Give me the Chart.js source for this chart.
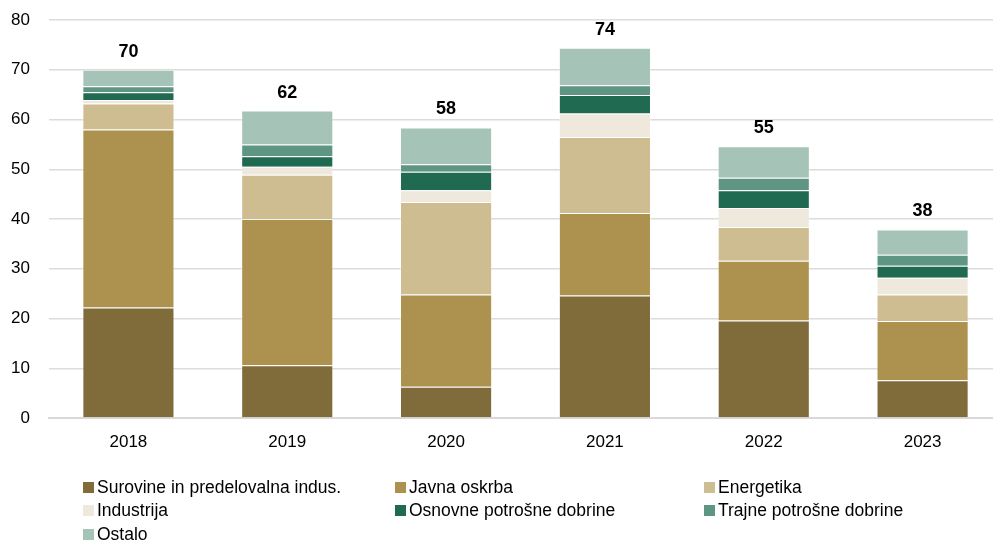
<!DOCTYPE html>
<html>
<head>
<meta charset="utf-8">
<script src="https://cdn.jsdelivr.net/npm/chart.js@4"></script>
<style>
  html, body { margin: 0; padding: 0; background: #fff; overflow: hidden; }
  #wrap { position: relative; width: 993px; height: 542px; overflow: hidden; }
</style>
</head>
<body>
<div id="wrap"><canvas id="c" width="1002" height="542"></canvas></div>
<script>
const years = ['2018', '2019', '2020', '2021', '2022', '2023'];
const seriesNames = ['Surovine in predelovalna indus.', 'Javna oskrba', 'Energetika', 'Industrija', 'Osnovne potrošne dobrine', 'Trajne potrošne dobrine', 'Ostalo'];
const surovine = [22.2, 10.6, 6.3, 24.6, 19.6, 7.6];
const javnaOskrba = [35.8, 29.4, 18.5, 16.6, 12.0, 11.9];
const energetika = [5.2, 8.9, 18.6, 15.3, 6.8, 5.3];
const industrija = [0.7, 1.6, 2.4, 4.7, 3.8, 3.4];
const osnovne = [1.6, 2.1, 3.7, 3.7, 3.6, 2.4];
const trajne = [1.2, 2.4, 1.5, 2.0, 2.5, 2.2];
const ostalo = [3.3, 6.8, 7.4, 7.5, 6.3, 5.1];
const yTicks = [0, 10, 20, 30, 40, 50, 60, 70, 80];

const colors = ['#806B3A', '#AD914E', '#CEBD91', '#EFE8DC', '#1F6A50', '#5E9683', '#A6C3B8'];
const seriesValues = [surovine, javnaOskrba, energetika, industrija, osnovne, trajne, ostalo];

const FONT = "'Liberation Sans', Arial, sans-serif";

const datasets = seriesValues.map((vals, i) => ({
  label: seriesNames[i],
  data: vals,
  backgroundColor: colors[i],
  borderColor: 'rgba(255,255,255,0.35)',
  borderWidth: 1,
  barPercentage: 0.58,
  categoryPercentage: 1.0
}));

const totalsPlugin = {
  id: 'totals',
  afterDatasetsDraw(chart) {
    const ctx = chart.ctx;
    const n = chart.data.labels.length;
    const lastMeta = chart.getDatasetMeta(chart.data.datasets.length - 1);
    ctx.save();
    ctx.font = "bold 18px " + FONT;
    ctx.fillStyle = '#000';
    ctx.textAlign = 'center';
    ctx.textBaseline = 'bottom';
    for (let j = 0; j < n; j++) {
      let sum = 0;
      chart.data.datasets.forEach(ds => sum += ds.data[j]);
      const x = lastMeta.data[j].x;
      const y = chart.scales.y.getPixelForValue(sum);
      ctx.fillText(String(Math.round(sum)), x, y - 9);
    }
    ctx.restore();
  }
};

const legendPlugin = {
  id: 'gridLegend',
  afterDraw(chart) {
    const ctx = chart.ctx;
    const colX = [83, 395, 704];
    const rowY = [487, 510, 534];
    ctx.save();
    ctx.font = "17.5px " + FONT;
    ctx.textBaseline = 'middle';
    ctx.textAlign = 'left';
    chart.data.datasets.forEach((ds, i) => {
      const cx = colX[i % 3];
      const cy = rowY[Math.floor(i / 3)];
      ctx.fillStyle = ds.backgroundColor;
      ctx.fillRect(cx, cy - 5, 11, 11);
      ctx.fillStyle = '#000';
      ctx.fillText(ds.label, cx + 14, cy + 1);
    });
    ctx.restore();
  }
};

new Chart(document.getElementById('c'), {
  type: 'bar',
  data: { labels: years, datasets },
  options: {
    responsive: false,
    animation: false,
    devicePixelRatio: 1,
    layout: { padding: { top: 20, right: 0, bottom: 84, left: 0 } },
    plugins: {
      legend: { display: false },
      tooltip: { enabled: false }
    },
    scales: {
      x: {
        stacked: true,
        grid: { display: false, drawTicks: false },
        border: { display: true, color: '#d9d9d9', width: 2 },
        ticks: { color: '#000', font: { family: FONT, size: 17 }, padding: 14 },
        afterFit(scale) { scale.height = 40; scale.paddingLeft = 0; scale.paddingRight = 0; }
      },
      y: {
        stacked: true,
        min: 0,
        max: 80,
        afterBuildTicks(scale) { scale.ticks = yTicks.map(v => ({ value: v })); },
        grid: { color: '#dcdcdc', lineWidth: 1.5, drawTicks: false },
        border: { display: false },
        ticks: { color: '#000', font: { family: FONT, size: 17 }, padding: 19 },
        afterFit(scale) { scale.width = 49; scale.paddingTop = 0; scale.paddingBottom = 0; }
      }
    }
  },
  plugins: [totalsPlugin, legendPlugin]
});
</script>
</body>
</html>
